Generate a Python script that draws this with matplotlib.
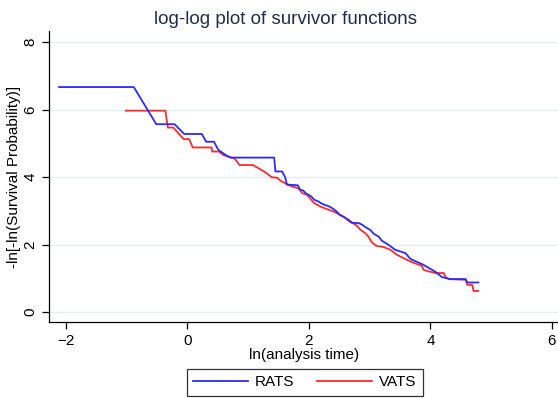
import matplotlib
matplotlib.use("Agg")
import matplotlib.pyplot as plt

plt.rcParams['font.family'] = ['Liberation Sans', 'DejaVu Sans']

# RATS curve: ln(t) vs -ln(-ln S)
rats_x = [-2.11, -0.88, -0.51, -0.21, -0.05, 0.24, 0.31, 0.44, 0.51, 0.63, 0.71,
          1.43, 1.45, 1.56, 1.61, 1.64, 1.82, 1.85, 1.91, 1.96, 2.04, 2.09, 2.16,
          2.20, 2.26, 2.34, 2.41, 2.46, 2.51, 2.57, 2.66, 2.71, 2.82, 2.88, 2.93,
          3.01, 3.07, 3.15, 3.20, 3.29, 3.34, 3.42, 3.59, 3.67, 3.89, 4.08, 4.19,
          4.33, 4.58, 4.61, 4.79]
rats_y = [6.67, 6.67, 5.57, 5.57, 5.28, 5.28, 5.05, 5.05, 4.81, 4.66, 4.58,
          4.58, 4.17, 4.17, 4.00, 3.78, 3.76, 3.64, 3.60, 3.51, 3.43, 3.33, 3.28,
          3.23, 3.18, 3.13, 3.05, 2.98, 2.88, 2.83, 2.73, 2.65, 2.64, 2.59, 2.52,
          2.44, 2.32, 2.24, 2.12, 2.02, 1.96, 1.85, 1.75, 1.58, 1.40, 1.20, 1.04,
          0.98, 0.98, 0.88, 0.88]

# VATS curve
vats_x = [-1.01, -0.36, -0.32, -0.23, -0.06, 0.03, 0.09, 0.40, 0.41, 0.52, 0.60,
          0.78, 0.86, 1.08, 1.28, 1.39, 1.48, 1.53, 1.64, 1.70, 1.83, 1.89, 1.97,
          2.04, 2.09, 2.19, 2.30, 2.41, 2.52, 2.60, 2.67, 2.74, 2.79, 2.85, 2.93,
          2.98, 3.04, 3.12, 3.23, 3.34, 3.45, 3.67, 3.86, 3.89, 4.08, 4.22, 4.25,
          4.30, 4.58, 4.61, 4.69, 4.71, 4.79]
vats_y = [5.97, 5.97, 5.47, 5.47, 5.13, 5.13, 4.88, 4.88, 4.76, 4.76, 4.65,
          4.55, 4.36, 4.36, 4.15, 4.00, 3.98, 3.90, 3.79, 3.74, 3.67, 3.53, 3.48,
          3.33, 3.23, 3.13, 3.05, 2.98, 2.88, 2.79, 2.68, 2.62, 2.56, 2.44, 2.34,
          2.24, 2.06, 1.96, 1.93, 1.85, 1.70, 1.50, 1.37, 1.25, 1.16, 1.16, 1.04,
          0.98, 0.96, 0.81, 0.81, 0.63, 0.63]

xticks = [-2, 0, 2, 4, 6]
yticks = [0, 2, 4, 6, 8]

fig = plt.figure(figsize=(5.58, 3.98), dpi=100)
ax = fig.add_axes([0.0884, 0.191, 0.9116, 0.731])

for yt in yticks:
    ax.axhline(yt, color='#e4eef0', lw=1.0, zorder=0)

ax.plot(vats_x, vats_y, color='#ff2a2a', lw=1.3, label='VATS', zorder=2)
ax.plot(rats_x, rats_y, color='#2a2aff', lw=1.3, label='RATS', zorder=3)

ax.set_xlim(-2.27, 6.1)
ax.set_ylim(-0.29, 8.33)
ax.set_xticks(xticks)
ax.set_yticks(yticks)
ax.tick_params(direction='out', length=5, width=0.9, labelsize=11, colors='black')
for lab in ax.get_yticklabels():
    lab.set_rotation(90)
    lab.set_va('center')

for side in ['top', 'right']:
    ax.spines[side].set_visible(False)
for side in ['left', 'bottom']:
    ax.spines[side].set_linewidth(0.9)

ax.set_xlabel('ln(analysis time)', fontsize=11, labelpad=0)
ax.set_ylabel('-ln[-ln(Survival Probability)]', fontsize=11, labelpad=2)

fig.text(0.512, 0.95, 'log-log plot of survivor functions', ha='center', va='center',
         fontsize=13.5, color='#1e2d4f')

handles, labels = ax.get_legend_handles_labels()
leg = fig.legend([handles[1], handles[0]], [labels[1], labels[0]], ncol=2,
                 loc='center', bbox_to_anchor=(0.546, 0.039), frameon=True,
                 fontsize=11, handlelength=3.6, handletextpad=0.45,
                 columnspacing=1.5, fancybox=False, borderpad=0.4)
leg.get_frame().set_edgecolor('black')
leg.get_frame().set_linewidth(0.9)

fig.savefig('out.png', dpi=100)
